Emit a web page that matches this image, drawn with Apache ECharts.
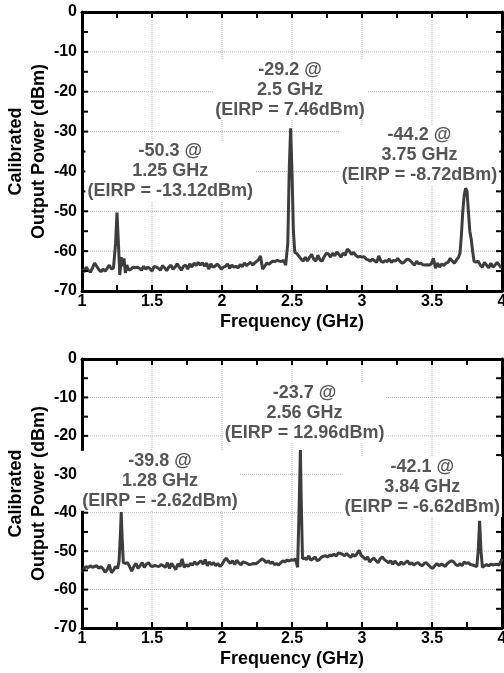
<!DOCTYPE html>
<html>
<head>
<meta charset="utf-8">
<script src="https://cdn.jsdelivr.net/npm/echarts@6/dist/echarts.min.js"></script>
<style>
  html, body { margin: 0; padding: 0; background: #fff; }
  #main { width: 504px; height: 673px; }
</style>
</head>
<body>
<div id="main"></div>
<script>
// 上图：频谱 (GHz, dBm)
var topTrace = [
  [1.00,-64.5],[1.015,-65.2],[1.03,-64.0],[1.045,-64.8],[1.06,-65.3],[1.075,-64.2],[1.09,-63.0],[1.105,-63.8],
  [1.12,-64.6],[1.135,-65.2],[1.15,-64.5],[1.165,-65.0],[1.18,-64.3],[1.195,-63.5],[1.21,-64.5],[1.225,-64.2],
  [1.24,-58],[1.25,-50.3],[1.26,-58],[1.27,-66.0],[1.28,-61.5],[1.29,-63.8],[1.30,-61.8],[1.31,-65.5],
  [1.32,-63.5],[1.335,-64.8],[1.35,-64.5],[1.365,-64.0],[1.38,-64.2],[1.395,-64.0],[1.41,-64.3],[1.425,-64.8],
  [1.44,-63.8],[1.455,-64.5],[1.47,-64.0],[1.485,-64.4],[1.50,-65.0],[1.515,-63.8],[1.53,-64.0],[1.545,-64.3],
  [1.56,-64.8],[1.575,-63.6],[1.59,-64.2],[1.605,-64.9],[1.62,-64.0],[1.635,-63.5],[1.65,-64.5],[1.665,-64.0],
  [1.68,-63.2],[1.695,-64.0],[1.71,-64.8],[1.725,-63.8],[1.74,-63.5],[1.755,-64.5],[1.77,-63.2],[1.785,-64.0],
  [1.80,-63.0],[1.815,-63.6],[1.83,-62.8],[1.845,-63.5],[1.86,-62.9],[1.875,-63.8],[1.89,-63.0],[1.905,-64.5],
  [1.92,-63.2],[1.935,-64.0],[1.95,-63.8],[1.965,-63.2],[1.98,-63.8],[1.995,-64.5],[2.01,-64.0],[2.025,-63.8],
  [2.04,-63.2],[2.055,-64.3],[2.07,-63.5],[2.085,-64.0],[2.10,-63.8],[2.115,-64.2],[2.13,-63.4],[2.145,-63.9],
  [2.16,-63.0],[2.175,-63.6],[2.19,-63.2],[2.205,-62.8],[2.22,-63.5],[2.235,-62.9],[2.25,-62.5],[2.265,-62.0],
  [2.275,-61.2],[2.29,-64.5],[2.305,-63.8],[2.32,-63.0],[2.335,-63.3],[2.35,-62.8],[2.365,-62.5],[2.38,-62.6],
  [2.395,-62.3],[2.41,-62.5],[2.425,-62.6],[2.44,-62.3],[2.455,-63.5],[2.47,-58],[2.48,-40],[2.49,-29.2],
  [2.50,-40],[2.51,-55],[2.52,-60.3],[2.535,-60.6],[2.55,-61.3],[2.565,-62.0],[2.58,-62.5],[2.595,-61.5],
  [2.61,-62.5],[2.625,-61.6],[2.64,-60.8],[2.655,-62.0],[2.67,-62.5],[2.685,-61.0],[2.70,-62.2],[2.715,-62.5],
  [2.73,-61.4],[2.745,-60.5],[2.76,-60.7],[2.775,-61.5],[2.79,-60.5],[2.805,-61.2],[2.82,-60.2],[2.835,-60.8],
  [2.85,-61.5],[2.865,-60.5],[2.88,-61.0],[2.895,-59.5],[2.91,-60.0],[2.925,-60.8],[2.94,-60.3],[2.955,-61.0],
  [2.97,-61.5],[2.985,-61.3],[3.00,-61.5],[3.015,-61.4],[3.03,-62.0],[3.045,-62.2],[3.06,-62.5],[3.075,-62.0],
  [3.09,-62.4],[3.105,-62.8],[3.12,-61.2],[3.135,-62.5],[3.15,-62.8],[3.165,-62.4],[3.18,-62.6],[3.195,-62.0],
  [3.21,-62.8],[3.225,-62.3],[3.24,-62.5],[3.255,-61.8],[3.27,-62.5],[3.285,-63.0],[3.30,-62.8],[3.315,-62.2],
  [3.33,-62.0],[3.345,-62.4],[3.36,-63.0],[3.375,-63.5],[3.39,-62.5],[3.405,-63.2],[3.42,-63.0],[3.435,-63.4],
  [3.45,-63.5],[3.465,-63.4],[3.48,-63.5],[3.495,-63.2],[3.51,-61.8],[3.525,-64.3],[3.54,-63.0],[3.555,-64.0],
  [3.57,-63.2],[3.585,-63.6],[3.60,-63.0],[3.615,-62.8],[3.63,-61.8],[3.645,-62.5],[3.66,-63.0],[3.675,-62.2],
  [3.69,-61.5],[3.70,-60.5],[3.71,-56],[3.72,-50],[3.73,-46],[3.74,-44.2],[3.75,-45],[3.76,-50],
  [3.77,-55],[3.78,-57],[3.79,-60],[3.80,-62.5],[3.815,-62.8],[3.83,-62.5],[3.845,-63.5],[3.86,-64.0],
  [3.875,-62.8],[3.89,-63.5],[3.905,-64.2],[3.92,-63.0],[3.935,-64.0],[3.95,-63.5],[3.965,-62.8],[3.98,-63.5],
  [3.995,-64.2],[4.00,-63.8]
];

// 下图
var bottomTrace = [
  [1.00,-55.5],[1.015,-54.5],[1.03,-54.0],[1.045,-54.3],[1.06,-53.8],[1.075,-54.2],[1.09,-54.0],[1.105,-53.8],
  [1.12,-54.5],[1.135,-54.0],[1.15,-54.6],[1.165,-55.5],[1.18,-54.8],[1.195,-53.5],[1.21,-55.6],[1.225,-55.0],
  [1.24,-54.0],[1.255,-54.5],[1.265,-52.5],[1.275,-45],[1.28,-39.8],[1.285,-45],[1.295,-53.0],[1.31,-53.2],
  [1.325,-53.0],[1.34,-54.0],[1.355,-55.2],[1.37,-54.0],[1.385,-53.2],[1.40,-54.5],[1.415,-53.8],[1.43,-53.0],
  [1.445,-54.2],[1.46,-53.4],[1.475,-53.0],[1.49,-53.8],[1.505,-54.0],[1.52,-53.7],[1.535,-53.9],[1.55,-54.0],
  [1.565,-53.5],[1.58,-53.8],[1.595,-54.2],[1.61,-53.0],[1.625,-54.5],[1.64,-53.2],[1.655,-54.0],[1.67,-54.8],
  [1.685,-53.3],[1.70,-54.0],[1.715,-52.0],[1.73,-54.2],[1.745,-53.5],[1.76,-54.0],[1.775,-53.2],[1.79,-53.6],
  [1.805,-52.8],[1.82,-53.5],[1.835,-53.0],[1.85,-52.5],[1.865,-53.4],[1.88,-52.2],[1.895,-53.8],[1.91,-52.8],
  [1.925,-53.5],[1.94,-53.0],[1.955,-53.8],[1.97,-53.2],[1.985,-54.0],[2.00,-53.5],[2.015,-52.5],[2.03,-51.8],
  [2.045,-52.6],[2.06,-53.2],[2.075,-52.5],[2.09,-53.5],[2.105,-52.4],[2.12,-53.0],[2.135,-53.6],[2.15,-52.8],
  [2.165,-53.0],[2.18,-53.2],[2.195,-53.5],[2.21,-53.4],[2.225,-53.2],[2.24,-53.3],[2.255,-53.0],[2.27,-52.5],
  [2.285,-52.0],[2.30,-52.3],[2.315,-53.0],[2.33,-52.5],[2.345,-53.2],[2.36,-52.8],[2.375,-53.5],[2.39,-53.2],
  [2.405,-53.6],[2.42,-53.0],[2.435,-52.5],[2.45,-52.8],[2.465,-52.3],[2.48,-52.6],[2.495,-52.2],[2.51,-52.4],
  [2.525,-52.0],[2.54,-54.2],[2.55,-40],[2.56,-23.7],[2.565,-35],[2.575,-52.0],[2.59,-51.8],[2.605,-52.2],
  [2.62,-51.2],[2.635,-52.4],[2.65,-52.0],[2.665,-51.5],[2.68,-52.5],[2.695,-52.2],[2.71,-51.6],[2.725,-51.3],
  [2.74,-51.2],[2.755,-51.5],[2.77,-51.0],[2.785,-51.2],[2.80,-50.8],[2.815,-51.3],[2.83,-50.5],[2.845,-50.6],
  [2.86,-50.8],[2.875,-51.2],[2.89,-50.6],[2.905,-51.2],[2.92,-51.6],[2.935,-50.8],[2.95,-51.4],[2.965,-50.6],
  [2.98,-49.8],[2.995,-51.2],[3.01,-51.6],[3.025,-52.2],[3.04,-51.5],[3.055,-52.8],[3.07,-52.2],[3.085,-51.8],
  [3.10,-52.5],[3.115,-53.0],[3.13,-52.0],[3.145,-51.5],[3.16,-52.2],[3.175,-52.6],[3.19,-53.0],[3.205,-52.5],
  [3.22,-53.4],[3.235,-52.6],[3.25,-53.2],[3.265,-53.6],[3.28,-52.8],[3.295,-53.4],[3.31,-53.0],[3.325,-52.5],
  [3.34,-53.4],[3.355,-53.0],[3.37,-53.6],[3.385,-53.2],[3.40,-53.0],[3.415,-53.5],[3.43,-53.8],[3.445,-53.2],
  [3.46,-53.0],[3.475,-53.6],[3.49,-54.2],[3.505,-54.5],[3.52,-53.8],[3.535,-53.2],[3.55,-53.8],[3.565,-53.4],
  [3.58,-53.6],[3.595,-54.0],[3.61,-53.2],[3.625,-52.8],[3.64,-52.5],[3.655,-52.8],[3.67,-53.5],[3.685,-53.8],
  [3.70,-53.2],[3.715,-53.8],[3.73,-52.8],[3.745,-53.2],[3.76,-53.0],[3.775,-53.5],[3.79,-53.6],[3.805,-53.8],
  [3.82,-54.0],[3.83,-50],[3.84,-42.1],[3.85,-50],[3.86,-54.2],[3.875,-53.8],[3.89,-53.5],[3.905,-53.8],
  [3.92,-53.4],[3.935,-53.6],[3.95,-53.5],[3.965,-53.4],[3.98,-53.6],[4.00,-52.0]
];

// 峰值标注：功率, 频率文字, EIRP
var topPeakPower = ['-50.3', '-29.2', '-44.2'];
var topPeakFreq = ['1.25', '2.5', '3.75'];
var topPeakEirp = ['-13.12', '7.46', '-8.72'];
var bottomPeakPower = ['-39.8', '-23.7', '-42.1'];
var bottomPeakFreq = ['1.28', '2.56', '3.84'];
var bottomPeakEirp = ['-2.62', '12.96', '-6.62'];

// 刻度
var xTicks = [1, 1.5, 2, 2.5, 3, 3.5, 4];
var yTicks = [0, -10, -20, -30, -40, -50, -60, -70];
var xMinorTicks = [1.25, 1.5, 1.75, 2, 2.25, 2.5, 2.75, 3, 3.25, 3.5, 3.75];
var yMinorTicks = [-5, -10, -15, -20, -25, -30, -35, -40, -45, -50, -55, -60, -65];

var FONT = '"Liberation Sans", Arial, sans-serif';
var X_MIN = 1, X_MAX = 4, Y_MIN = -70, Y_MAX = 0;
var myChart = echarts.init(document.getElementById('main'));

function xMain(g) {
	return {
		type: 'value', gridIndex: g, position: 'bottom',
		min: X_MIN, max: X_MAX, interval: 0.5,
		axisLine: { show: true, onZero: false, lineStyle: { color: '#000', width: 3 } },
		axisTick: { show: false },
		axisLabel: { show: true, color: '#000', fontWeight: 'bold', fontSize: 16, fontFamily: FONT, margin: 3 },
		splitLine: { show: false },
		name: 'Frequency (GHz)', nameLocation: 'middle', nameGap: 22,
		nameTextStyle: { color: '#000', fontWeight: 'bold', fontSize: 18, fontFamily: FONT }
	};
}
function yMain(g) {
	return {
		type: 'value', gridIndex: g, position: 'left',
		min: Y_MIN, max: Y_MAX, interval: 10,
		axisLine: { show: true, onZero: false, lineStyle: { color: '#000', width: 3 } },
		axisTick: { show: false },
		axisLabel: { show: true, color: '#000', fontWeight: 'bold', fontSize: 16, fontFamily: FONT, margin: 5 },
		splitLine: { show: false },
		name: 'Calibrated\nOutput Power (dBm)', nameLocation: 'middle', nameGap: 31, nameRotate: 90,
		nameMoveOverlap: false,
		nameTextStyle: { color: '#000', fontWeight: 'bold', fontSize: 18, lineHeight: 23, fontFamily: FONT }
	};
}
// 上、右边框
function frameAxis(g, pos, mn, mx) {
	return {
		type: 'value', gridIndex: g, position: pos, min: mn, max: mx,
		axisLine: { show: true, onZero: false, lineStyle: { color: '#000', width: 3 } },
		axisTick: { show: false }, axisLabel: { show: false }, splitLine: { show: false }
	};
}

// 每条网格线 / 刻度都画成一条两点的折线
function segment(g, pts, style, z) {
	return {
		type: 'line', xAxisIndex: g * 2, yAxisIndex: g * 2, z: z,
		data: pts, showSymbol: false, symbol: 'none', silent: true,
		lineStyle: style, emphasis: { disabled: true }
	};
}
function guides(g, tickDb) {
	var gridStyle = { color: '#b8b8b8', type: 'dotted', width: 1 };
	var tickStyle = { color: '#000', type: 'solid', width: 2 };
	var tickGhz = 0.043;
	var out = [];
	xTicks.slice(1, -1).forEach(function (v) {
		out.push(segment(g, [[v, Y_MIN], [v, Y_MAX]], gridStyle, 1));
	});
	yTicks.slice(1, -1).forEach(function (v) {
		out.push(segment(g, [[X_MIN, v], [X_MAX, v]], gridStyle, 1));
	});
	xMinorTicks.forEach(function (v) {
		out.push(segment(g, [[v, Y_MIN], [v, Y_MIN + tickDb]], tickStyle, 4));
		out.push(segment(g, [[v, Y_MAX], [v, Y_MAX - tickDb]], tickStyle, 4));
	});
	yMinorTicks.forEach(function (v) {
		out.push(segment(g, [[X_MIN, v], [X_MIN + tickGhz, v]], tickStyle, 4));
		out.push(segment(g, [[X_MAX, v], [X_MAX - tickGhz, v]], tickStyle, 4));
	});
	return out;
}

// 标注文字块（数据坐标中的中心位置）
function notes(power, freq, eirp, at) {
	return power.map(function (p, i) {
		return {
			coord: at[i],
			symbolSize: 0,
			label: {
				show: true, position: 'inside',
				formatter: p + ' @\n' + freq[i] + ' GHz\n(EIRP = ' + eirp[i] + 'dBm)',
				color: '#555', fontWeight: 'bold', fontSize: 18, lineHeight: 20, fontFamily: FONT,
				backgroundColor: '#fff', padding: [0, 2], align: 'center', verticalAlign: 'middle'
			}
		};
	});
}

var topNoteAt = [[1.63, -40], [2.486, -19.5], [3.41, -36]];
var bottomNoteAt = [[1.557, -31.7], [2.59, -14.1], [3.43, -33.3]];

function traceSeries(g, data, marks) {
	return {
		type: 'line', xAxisIndex: g * 2, yAxisIndex: g * 2, z: 3,
		data: data, showSymbol: false, smooth: false,
		lineStyle: { color: '#3d3d3d', width: 3 },
		markPoint: { symbol: 'circle', symbolSize: 0, data: marks }
	};
}

var option = {
	grid: [
		{ left: 82, top: 12, width: 420, height: 279, outerBoundsMode: 'none' },
		{ left: 82, top: 359, width: 420, height: 269, outerBoundsMode: 'none' }
	],
	xAxis: [xMain(0), frameAxis(0, 'top', X_MIN, X_MAX), xMain(1), frameAxis(1, 'top', X_MIN, X_MAX)],
	yAxis: [yMain(0), frameAxis(0, 'right', Y_MIN, Y_MAX), yMain(1), frameAxis(1, 'right', Y_MIN, Y_MAX)],
	series: guides(0, 1.5).concat(guides(1, 1.56)).concat([
		traceSeries(0, topTrace, notes(topPeakPower, topPeakFreq, topPeakEirp, topNoteAt)),
		traceSeries(1, bottomTrace, notes(bottomPeakPower, bottomPeakFreq, bottomPeakEirp, bottomNoteAt))
	])
};
myChart.setOption(option);
</script>
</body>
</html>
